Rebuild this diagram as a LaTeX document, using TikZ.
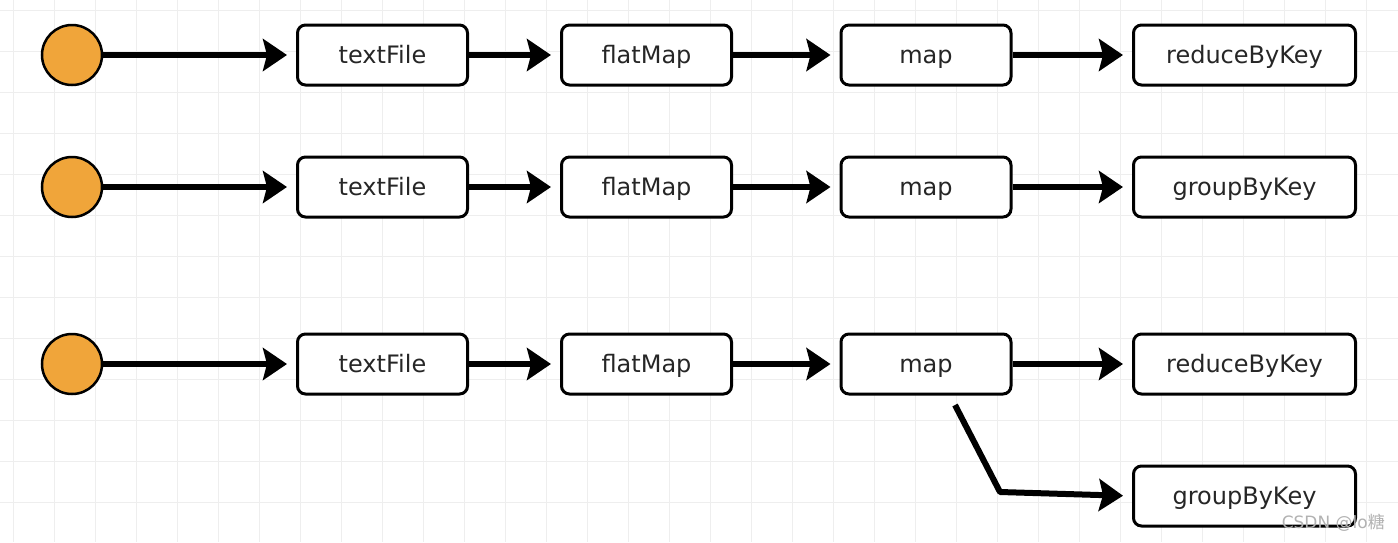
\documentclass[tikz,border=0pt]{standalone}
\usepackage{fontspec}
\setmainfont{DejaVu Sans}
\newfontfamily\cjkfont{Noto Sans CJK SC}
\usetikzlibrary{arrows.meta}
\definecolor{startorange}{HTML}{F0A53A}
\definecolor{gridgrey}{HTML}{EEEEEE}
\definecolor{labelgrey}{HTML}{262626}
\tikzset{
  startdot/.style={circle, draw=black, line width=2.5pt, fill=startorange, minimum size=60pt, inner sep=0pt},
  opbox/.style={draw=black, line width=3pt, rounded corners=8pt, fill=white, minimum height=60pt, minimum width=170pt, inner sep=0pt, text=labelgrey, font=\fontsize{24}{28}\selectfont, text height=18pt, text depth=2pt},
  widebox/.style={opbox, minimum width=222pt},
  flow/.style={line width=6pt, -{Stealth[length=24pt,width=32pt,inset=4pt]}, shorten >=9pt, line join=round}
}
\begin{document}
\begin{tikzpicture}[x=1pt,y=-1pt]
\useasboundingbox (0,0) rectangle (1398,542);
\fill[white] (0,0) rectangle (1398,542);
\foreach \gx in {13,54,...,1398} \draw[gridgrey, line width=1pt] (\gx,0) -- (\gx,542);
\foreach \gy in {10,51,...,542} \draw[gridgrey, line width=1pt] (0,\gy) -- (1398,\gy);

% row 1
\node[startdot] (s1) at (72,55) {};
\node[opbox] (t1) at (382.5,55) {textFile};
\node[opbox] (f1) at (646.5,55) {flatMap};
\node[opbox] (m1) at (926,55) {map};
\node[widebox] (r1) at (1244.5,55) {reduceByKey};
% row 2
\node[startdot] (s2) at (72,187) {};
\node[opbox] (t2) at (382.5,187) {textFile};
\node[opbox] (f2) at (646.5,187) {flatMap};
\node[opbox] (m2) at (926,187) {map};
\node[widebox] (g2) at (1244.5,187) {groupByKey};
% row 3
\node[startdot] (s3) at (72,364) {};
\node[opbox] (t3) at (382.5,364) {textFile};
\node[opbox] (f3) at (646.5,364) {flatMap};
\node[opbox] (m3) at (926,364) {map};
\node[widebox] (r3) at (1244.5,364) {reduceByKey};
\node[widebox] (g3) at (1244.5,496) {groupByKey};

\foreach \r in {1,2}{
  \draw[flow] (s\r) -- (t\r);
  \draw[flow] (t\r) -- (f\r);
  \draw[flow] (f\r) -- (m\r);
}
\draw[flow] (m1) -- (r1);
\draw[flow] (m2) -- (g2);
\draw[flow] (s3) -- (t3);
\draw[flow] (t3) -- (f3);
\draw[flow] (f3) -- (m3);
\draw[flow] (m3) -- (r3);

\coordinate (bend) at (1000,492);
\coordinate (split) at (955,405);
\draw[flow] (split) -- (bend) -- (g3.west);

\node[anchor=south east, inner sep=0pt, text=white!40!gray, font=\fontsize{17}{19}\selectfont] (wm) at (1385,532) {CSDN @lo{\cjkfont 糖}};
\end{tikzpicture}
\end{document}
